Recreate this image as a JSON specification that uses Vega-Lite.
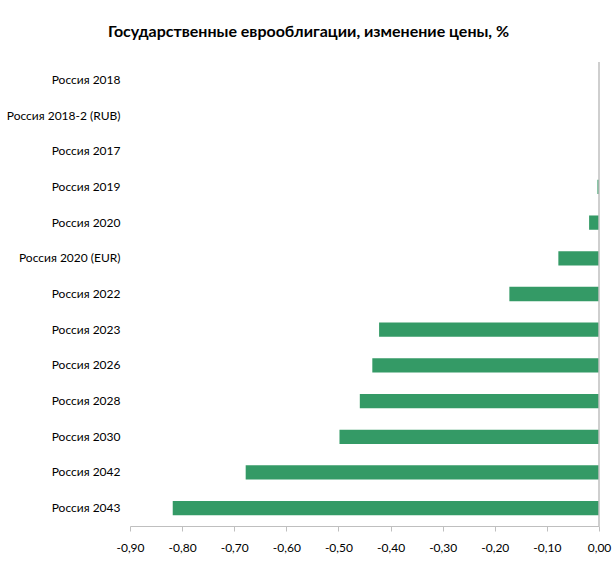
{
  "$schema": "https://vega.github.io/schema/vega-lite/v6.json",
  "autosize": "none",
  "width": 469,
  "height": 464,
  "padding": {"left": 130, "top": 62, "right": 15, "bottom": 37},
  "background": "white",
  "title": {
    "text": "Государственные еврооблигации, изменение цены, %",
    "font": "Lato",
    "fontSize": 16,
    "fontWeight": "bold",
    "color": "#000000",
    "anchor": "middle",
    "frame": "bounds",
    "offset": 21
  },
  "data": {
    "values": [
      {"bond": "Россия 2018", "change": 0},
      {"bond": "Россия 2018-2 (RUB)", "change": 0},
      {"bond": "Россия 2017", "change": 0},
      {"bond": "Россия 2019", "change": -0.003},
      {"bond": "Россия 2020", "change": -0.019},
      {"bond": "Россия 2020 (EUR)", "change": -0.078},
      {"bond": "Россия 2022", "change": -0.172},
      {"bond": "Россия 2023", "change": -0.422},
      {"bond": "Россия 2026", "change": -0.435},
      {"bond": "Россия 2028", "change": -0.459},
      {"bond": "Россия 2030", "change": -0.498},
      {"bond": "Россия 2042", "change": -0.678},
      {"bond": "Россия 2043", "change": -0.818}
    ]
  },
  "config": {
    "view": {"stroke": null},
    "font": "Lato"
  },
  "layer": [
    {
      "mark": {"type": "bar", "color": "#349a66"},
      "encoding": {
        "y": {
          "field": "bond",
          "type": "nominal",
          "sort": null,
          "scale": {"paddingInner": 0.6, "paddingOuter": 0.3},
          "axis": {
            "title": null,
            "domain": false,
            "ticks": false,
            "labelPadding": 10,
            "labelFontSize": 12,
            "labelColor": "#000000",
            "labelFont": "Lato"
          }
        },
        "x": {
          "field": "change",
          "type": "quantitative",
          "scale": {"domain": [-0.9, 0], "nice": false, "zero": false},
          "axis": {
            "title": null,
            "grid": false,
            "values": [-0.9, -0.8, -0.7, -0.6, -0.5, -0.4, -0.3, -0.2, -0.1, 0],
            "labelExpr": "replace(replace(format(datum.value, '.2f'), '.', ','), '−', '-')",
            "domainColor": "#bfbfbf",
            "tickColor": "#bfbfbf",
            "tickSize": 5,
            "labelPadding": 11,
            "labelFontSize": 12,
            "labelColor": "#000000",
            "labelFont": "Lato",
            "labelFlush": false
          }
        }
      }
    },
    {
      "data": {"values": [{"zero": 0}]},
      "mark": {"type": "rule", "color": "#bfbfbf", "strokeWidth": 1.5},
      "encoding": {
        "x": {"field": "zero", "type": "quantitative"}
      }
    }
  ]
}
